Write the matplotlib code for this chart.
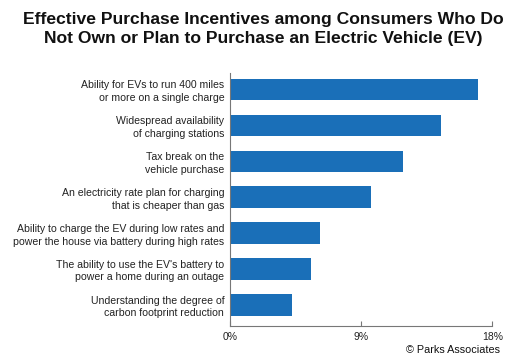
import matplotlib
matplotlib.use("Agg")
import matplotlib.pyplot as plt

font = "Liberation Sans"

categories = [
    "Ability for EVs to run 400 miles\nor more on a single charge",
    "Widespread availability\nof charging stations",
    "Tax break on the\nvehicle purchase",
    "An electricity rate plan for charging\nthat is cheaper than gas",
    "Ability to charge the EV during low rates and\npower the house via battery during high rates",
    "The ability to use the EV's battery to\npower a home during an outage",
    "Understanding the degree of\ncarbon footprint reduction",
]
values = [17.0, 14.5, 11.9, 9.7, 6.2, 5.6, 4.3]
tick_vals = [0, 9, 18]
tick_labels = ["0%", "9%", "18%"]

fig = plt.figure(figsize=(5.26, 3.54), dpi=100)
ax = fig.add_axes([0.4367, 0.079, 0.4993, 0.715])
pos = list(range(len(categories)))
ax.barh(pos, values, height=0.6, color="#1a6fb8")
ax.set_ylim(6.585, -0.46)
ax.set_xlim(0, 18)
ax.set_yticks(pos)
ax.set_yticklabels(categories, fontsize=7.6, family=font, color="#222222",
                   linespacing=1.3)
ax.tick_params(axis="y", length=0, pad=4)
ax.set_xticks(tick_vals)
ax.set_xticklabels(tick_labels, fontsize=7.5, family=font, color="#222222")
ax.tick_params(axis="x", direction="in", length=3.5, color="#777777", pad=4)
for s in ["top", "right"]:
    ax.spines[s].set_visible(False)
for s in ["left", "bottom"]:
    ax.spines[s].set_color("#777777")
    ax.spines[s].set_linewidth(0.8)

fig.text(0.5, 0.918, "Effective Purchase Incentives among Consumers Who Do\nNot Own or Plan to Purchase an Electric Vehicle (EV)",
         ha="center", va="center", fontsize=12.6, fontweight="bold", family=font,
         color="#111111", linespacing=1.32)
fig.text(0.951, -0.004, "© Parks Associates", ha="right", va="bottom", fontsize=7.8,
         family=font, color="#111111")
fig.savefig("out.png", dpi=100)
